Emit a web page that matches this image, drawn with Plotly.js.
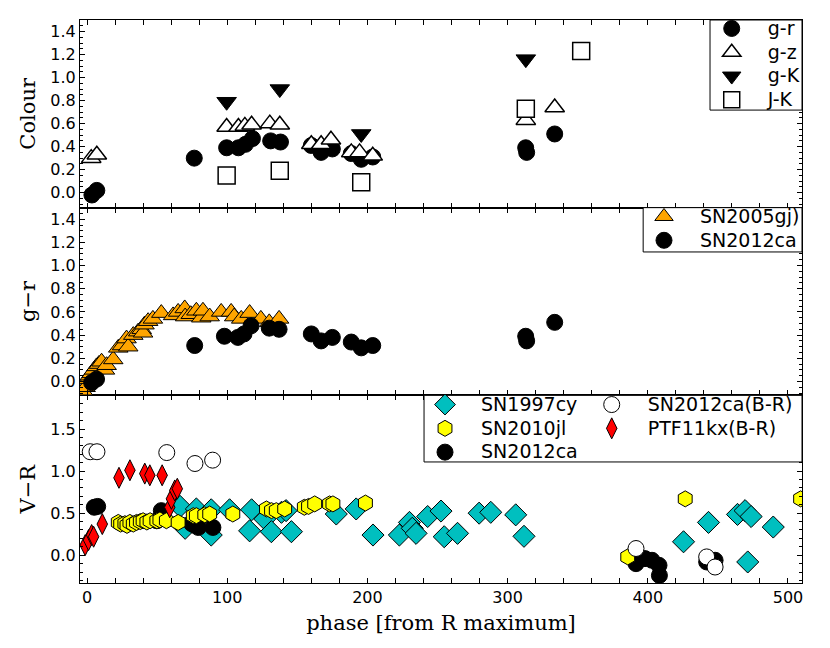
<!DOCTYPE html>
<html><head><meta charset="utf-8">
<script src="https://cdn.plot.ly/plotly-3.0.1.min.js"></script>
<style>html,body{margin:0;padding:0;background:#fff}</style>
</head><body>
<div id="plot" style="width:830px;height:648px"></div>
<script>
// ---- Top panel: colours of SN2012ca ----
const gr_x = [3.5, 7, 76.5, 99.6, 108, 113, 118, 131, 138, 160, 167, 175, 188.5, 195.6, 203.8, 312.9, 313.6, 333.6];
const gr_y = [-0.02, 0.02, 0.30, 0.39, 0.39, 0.42, 0.47, 0.45, 0.44, 0.41, 0.35, 0.38, 0.34, 0.29, 0.31, 0.39, 0.35, 0.51];
const gz_x = [3, 7, 99.6, 108, 112.6, 117.4, 130.4, 137.5, 160, 167, 174, 188.5, 194.4, 203.8, 313, 333.6];
const gz_y = [0.30, 0.33, 0.57, 0.57, 0.58, 0.59, 0.60, 0.59, 0.42, 0.42, 0.46, 0.35, 0.35, 0.32, 0.63, 0.74];
const gK_x = [99.6, 137.5, 195.6, 313];
const gK_y = [0.79, 0.90, 0.51, 1.16];
const JK_x = [99.6, 137.5, 195.6, 313, 352.5];
const JK_y = [0.15, 0.19, 0.09, 0.73, 1.23];

// ---- Middle panel: g-r comparison ----
const gj_x = [-3, -1, 1, 2, 3.3, 5, 6.8, 8.5, 10.4, 12.8, 14, 18.7, 22.3, 25, 28.2, 29.4, 33, 36.5, 39, 40, 41, 43.6, 47, 53, 61.4, 65, 69.7, 70, 74, 78, 81.5, 82.7, 87.5, 95.7, 102.8, 105, 110, 116, 124, 130, 137];
const gj_y = [-0.08, -0.05, 0.02, 0.05, 0.07, 0.10, 0.13, 0.15, 0.17, 0.10, 0.14, 0.19, 0.29, 0.31, 0.37, 0.30, 0.40, 0.43, 0.45, 0.42, 0.49, 0.52, 0.54, 0.59, 0.57, 0.60, 0.63, 0.56, 0.58, 0.61, 0.55, 0.61, 0.56, 0.60, 0.60, 0.56, 0.54, 0.59, 0.54, 0.51, 0.54];
const ca_gr_x = [3.3, 6.8, 76.8, 98, 107.6, 112, 117, 130, 137, 160, 167, 175, 188.5, 195.6, 203.8, 312.9, 313.6, 333.6];
const ca_gr_y = [-0.01, 0.02, 0.31, 0.39, 0.38, 0.41, 0.48, 0.46, 0.45, 0.41, 0.35, 0.38, 0.34, 0.29, 0.31, 0.39, 0.35, 0.51];

// ---- Bottom panel: V-R comparison ----
const cy_x = [66.4, 70, 78, 88.6, 88.6, 101.7, 116, 117.4, 126.8, 131.5, 138.7, 142, 145.8, 177.8, 192, 204, 222.8, 230, 232, 234.7, 243, 252.5, 254.8, 264.3, 279.7, 288, 305.8, 311.7, 425.5, 443.3, 464, 469.4, 471.3, 473.7, 489.5];
const cy_y = [0.58, 0.32, 0.55, 0.54, 0.24, 0.54, 0.29, 0.54, 0.43, 0.28, 0.51, 0.53, 0.28, 0.49, 0.55, 0.24, 0.24, 0.39, 0.32, 0.26, 0.46, 0.525, 0.22, 0.26, 0.50, 0.51, 0.48, 0.225, 0.16, 0.39, 0.485, 0.53, -0.08, 0.46, 0.335];
const jl_x = [22.3, 24, 27, 28.5, 30.6, 33, 35.3, 38, 40, 42.7, 45, 49.8, 52, 56.6, 65, 75.8, 78, 84, 87.5, 104, 128, 131.6, 135, 141, 155, 158, 162.4, 173, 175.4, 198.6, 385.7, 426.7, 509];
const jl_y = [0.39, 0.37, 0.375, 0.355, 0.39, 0.37, 0.39, 0.40, 0.41, 0.395, 0.41, 0.41, 0.42, 0.41, 0.39, 0.47, 0.47, 0.48, 0.49, 0.49, 0.55, 0.53, 0.53, 0.55, 0.57, 0.58, 0.61, 0.61, 0.61, 0.62, -0.02, 0.67, 0.67];
const ca_vr_x = [5.2, 7.6, 49.8, 53, 74.7, 76.8, 79.4, 80.6, 89.8, 391.6, 398, 403, 408, 408.3, 442, 448];
const ca_vr_y = [0.57, 0.58, 0.41, 0.53, 0.375, 0.355, 0.33, 0.45, 0.33, -0.10, -0.04, -0.06, -0.12, -0.24, -0.08, -0.06];
const ca_br_x = [2.3, 7.1, 56.9, 77, 89.6, 391.6, 442, 448];
const ca_br_y = [1.23, 1.23, 1.22, 1.09, 1.13, 0.08, -0.02, -0.14];
const kx_x = [-1.3, 1.1, 3.3, 4.7, 10.9, 22.8, 30.6, 41.2, 44.8, 53.6, 59, 60.2, 62.6, 64.4];
const kx_y = [0.12, 0.18, 0.24, 0.22, 0.37, 0.92, 1.01, 0.97, 0.95, 0.95, 0.57, 0.67, 0.77, 0.79];

const xTicks = [0, 100, 200, 300, 400, 500];
const topTicks = [0.0, 0.2, 0.4, 0.6, 0.8, 1.0, 1.2, 1.4];
const botTicks = [0.0, 0.5, 1.0, 1.5];

function lbl(t) { return '<span style="font-size:19px">' + t + '</span>'; }
const blk = {color: 'black', width: 1};
const traces = [
  // top panel
  {x: gr_x, y: gr_y, name: lbl('g-r'), xaxis: 'x3', yaxis: 'y3', legend: 'legend', mode: 'markers',
   marker: {symbol: 'circle', size: 16, color: 'black', line: blk}},
  {x: gz_x, y: gz_y, name: lbl('g-z'), xaxis: 'x3', yaxis: 'y3', legend: 'legend', mode: 'markers',
   marker: {symbol: 'triangle-up', size: 17, color: 'white', line: {color: 'black', width: 1.5}}},
  {x: gK_x, y: gK_y, name: lbl('g-K'), xaxis: 'x3', yaxis: 'y3', legend: 'legend', mode: 'markers',
   marker: {symbol: 'triangle-down', size: 17, color: 'black', line: blk}},
  {x: JK_x, y: JK_y, name: lbl('J-K'), xaxis: 'x3', yaxis: 'y3', legend: 'legend', mode: 'markers',
   marker: {symbol: 'square', size: 17, color: 'white', line: {color: 'black', width: 1.5}}},
  // middle panel
  {x: gj_x, y: gj_y, name: lbl('SN2005gj)'), xaxis: 'x2', yaxis: 'y2', legend: 'legend2', mode: 'markers',
   marker: {symbol: 'triangle-up', size: 17, color: '#FFA500', line: blk}},
  {x: ca_gr_x, y: ca_gr_y, name: lbl('SN2012ca'), xaxis: 'x2', yaxis: 'y2', legend: 'legend2', mode: 'markers',
   marker: {symbol: 'circle', size: 16, color: 'black', line: blk}},
  // bottom panel
  {x: cy_x, y: cy_y, name: lbl('SN1997cy'), xaxis: 'x', yaxis: 'y', legend: 'legend3', legendrank: 1, mode: 'markers',
   marker: {symbol: 'diamond', size: 17, color: '#00BFBF', line: blk}},
  {x: ca_vr_x, y: ca_vr_y, name: lbl('SN2012ca'), xaxis: 'x', yaxis: 'y', legend: 'legend3', legendrank: 3, mode: 'markers',
   marker: {symbol: 'circle', size: 16, color: 'black', line: blk}},
  {x: jl_x, y: jl_y, name: lbl('SN2010jl'), xaxis: 'x', yaxis: 'y', legend: 'legend3', legendrank: 2, mode: 'markers',
   marker: {symbol: 'hexagon', size: 16, color: '#FFFF00', line: blk}},
  {x: ca_br_x, y: ca_br_y, name: lbl('SN2012ca(B-R)'), xaxis: 'x', yaxis: 'y', legend: 'legend4', legendrank: 1, mode: 'markers',
   marker: {symbol: 'circle', size: 16, color: 'white', line: blk}},
  {x: kx_x, y: kx_y, name: lbl('PTF11kx(B-R)'), xaxis: 'x', yaxis: 'y', legend: 'legend4', legendrank: 2, mode: 'markers',
   marker: {symbol: 'diamond-tall', size: 15, color: '#FF0000', line: blk}}
];

const tickFont = {family: 'DejaVu Sans', size: 16, color: 'black'};
const titleFont = {family: 'DejaVu Serif', size: 21, color: 'black'};
function xax(anchor, labels, extra) {
  return Object.assign({
    anchor: anchor, range: [-5, 510], showline: true, linecolor: 'black', linewidth: 1,
    mirror: 'allticks', ticks: 'inside', ticklen: 5, tickwidth: 1, tickcolor: 'black',
    tickmode: 'array', tickvals: xTicks, showticklabels: labels, tickfont: tickFont,
    minor: {dtick: 20, tick0: 0, ticks: 'inside', ticklen: 5, tickcolor: 'black'},
    showgrid: false, zeroline: false
  }, extra || {});
}
function yax(domain, range, tv, fmt, minorStep, title) {
  return {
    domain: domain, range: range, showline: true, linecolor: 'black', linewidth: 1,
    mirror: 'allticks', ticks: 'inside', ticklen: 5, tickwidth: 1, tickcolor: 'black',
    tickmode: 'array', tickvals: tv, tickformat: fmt, tickfont: tickFont,
    minor: {dtick: minorStep, tick0: 0, ticks: 'inside', ticklen: 3, tickcolor: 'black'},
    showgrid: false, zeroline: false,
    title: {text: title, font: titleFont, standoff: 8}
  };
}
const legFont = {family: 'DejaVu Sans', size: 16, color: 'black'};
function leg(x, y) {
  return {x: x, xanchor: 'left', y: y, yanchor: 'top', bgcolor: 'rgba(0,0,0,0)', borderwidth: 0,
          font: legFont, itemwidth: 62, tracegroupgap: 0};
}
function box(x0, y0, y1) {
  return {type: 'rect', xref: 'paper', yref: 'paper', x0: x0, x1: 1, y0: y0, y1: y1,
          fillcolor: 'white', line: {color: 'black', width: 1}, layer: 'above'};
}
const layout = {
  width: 830, height: 648,
  margin: {l: 80, r: 28, t: 20, b: 65},
  paper_bgcolor: 'white', plot_bgcolor: 'white',
  showlegend: true,
  xaxis: xax('y', true, {title: {text: 'phase [from R maximum]', font: titleFont, standoff: 9}}),
  xaxis2: xax('y2', false, {matches: 'x'}),
  xaxis3: xax('y3', false, {matches: 'x'}),
  yaxis: yax([0, 0.3333], [-0.33, 1.9], botTicks, '.1f', 0.1, 'V\u2212R'),
  yaxis2: yax([0.3333, 0.6667], [-0.12, 1.5], topTicks, '.1f', 0.05, 'g\u2212r'),
  yaxis3: yax([0.6667, 1], [-0.13, 1.5], topTicks, '.1f', 0.05, 'Colour'),
  legend: leg(0.8528, 1.015),
  legend2: leg(0.759, 0.681),
  legend3: leg(0.4557, 0.347),
  legend4: leg(0.6866, 0.347),
  shapes: [
    box(0.8726, 0.840, 1),
    box(0.780, 0.588, 0.6667),
    box(0.4765, 0.215, 0.3333)
  ]
};
Plotly.newPlot('plot', traces, layout, {displayModeBar: false, staticPlot: true});
</script>
</body></html>
